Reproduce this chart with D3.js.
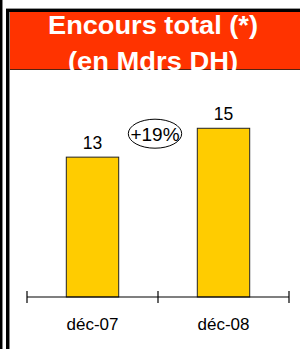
<!DOCTYPE html>
<html><head><meta charset="utf-8">
<script src="https://cdn.jsdelivr.net/npm/d3@7"></script>
<style>html,body{margin:0;padding:0;background:#fff;}svg{display:block;}</style>
</head><body>
<svg id="c" width="300" height="349"></svg>
<script>
const categories = ["déc-07", "déc-08"];
const values = [12.6, 15.2];
const valueLabels = ["13", "15"];
const titleLines = ["Encours total (*)", "(en Mdrs DH)"];
const growthLabel = "+19%";

const svg = d3.select("#c");
const font = "'Liberation Sans', Arial, sans-serif";

// frame borders
svg.append("rect").attr("x",0).attr("y",0).attr("width",2).attr("height",349).attr("fill","#000");
svg.append("rect").attr("x",2).attr("y",0).attr("width",1).attr("height",349).attr("fill","#888");
svg.append("rect").attr("x",6).attr("y",8).attr("width",294).attr("height",1).attr("fill","#999");
svg.append("rect").attr("x",6).attr("y",9).attr("width",294).attr("height",3).attr("fill","#000");
svg.append("rect").attr("x",6).attr("y",9).attr("width",3).attr("height",340).attr("fill","#000");
svg.append("rect").attr("x",9).attr("y",12).attr("width",1).attr("height",337).attr("fill","#888");

// header
svg.append("rect").attr("x",10).attr("y",12).attr("width",290).attr("height",57).attr("fill","#FF3300");
svg.append("rect").attr("x",10).attr("y",69).attr("width",290).attr("height",1).attr("fill","#552211");

const titleY = [34, 70];
const titleW = [210, 170];
titleLines.forEach((t,i)=>{
  svg.append("text").attr("x",153).attr("y",titleY[i]).attr("text-anchor","middle")
    .attr("font-family",font).attr("font-weight","bold").attr("font-size",25)
    .attr("fill","#fff").attr("textLength",titleW[i]).attr("lengthAdjust","spacingAndGlyphs").text(t);
});

// scales
const x = d3.scaleBand().domain(categories).range([27,289]).paddingInner(0.6).paddingOuter(0.3);
const y = d3.scaleLinear().domain([0,20]).range([297,75]);

// bars
svg.selectAll("rect.bar").data(values).enter().append("rect").attr("class","bar")
  .attr("x",(d,i)=>x(categories[i])).attr("width",x.bandwidth())
  .attr("y",d=>y(d)).attr("height",d=>y(0)-y(d))
  .attr("fill","#FFCC00").attr("stroke","#222").attr("stroke-width",1);

// value labels
svg.selectAll("text.val").data(values).enter().append("text").attr("class","val")
  .attr("x",(d,i)=>x(categories[i])+x.bandwidth()/2).attr("y",d=>y(d)-8)
  .attr("text-anchor","middle").attr("font-family",font).attr("font-size",17.5).attr("fill","#000")
  .text((d,i)=>valueLabels[i]);

// axis
const axisG = svg.append("g").attr("transform","translate(0,297)");
axisG.append("line").attr("x1",27).attr("x2",289).attr("stroke","#000").attr("stroke-width",1.2);
const tickX = [27, 158, 289];
axisG.selectAll("line.t").data(tickX).enter().append("line").attr("class","t")
  .attr("x1",d=>d).attr("x2",d=>d).attr("y1",-6).attr("y2",6).attr("stroke","#000").attr("stroke-width",1.2);
svg.selectAll("text.cat").data(categories).enter().append("text").attr("class","cat")
  .attr("x",d=>x(d)+x.bandwidth()/2).attr("y",330).attr("text-anchor","middle")
  .attr("font-family",font).attr("font-size",17).attr("fill","#000").text(d=>d);

// growth ellipse
svg.append("ellipse").attr("cx",155).attr("cy",133.7).attr("rx",26.7).attr("ry",14.5)
  .attr("fill","none").attr("stroke","#000").attr("stroke-width",1);
svg.append("text").attr("x",155).attr("y",141).attr("text-anchor","middle")
  .attr("font-family",font).attr("font-size",19).attr("fill","#000").text(growthLabel);
</script>
</body></html>
